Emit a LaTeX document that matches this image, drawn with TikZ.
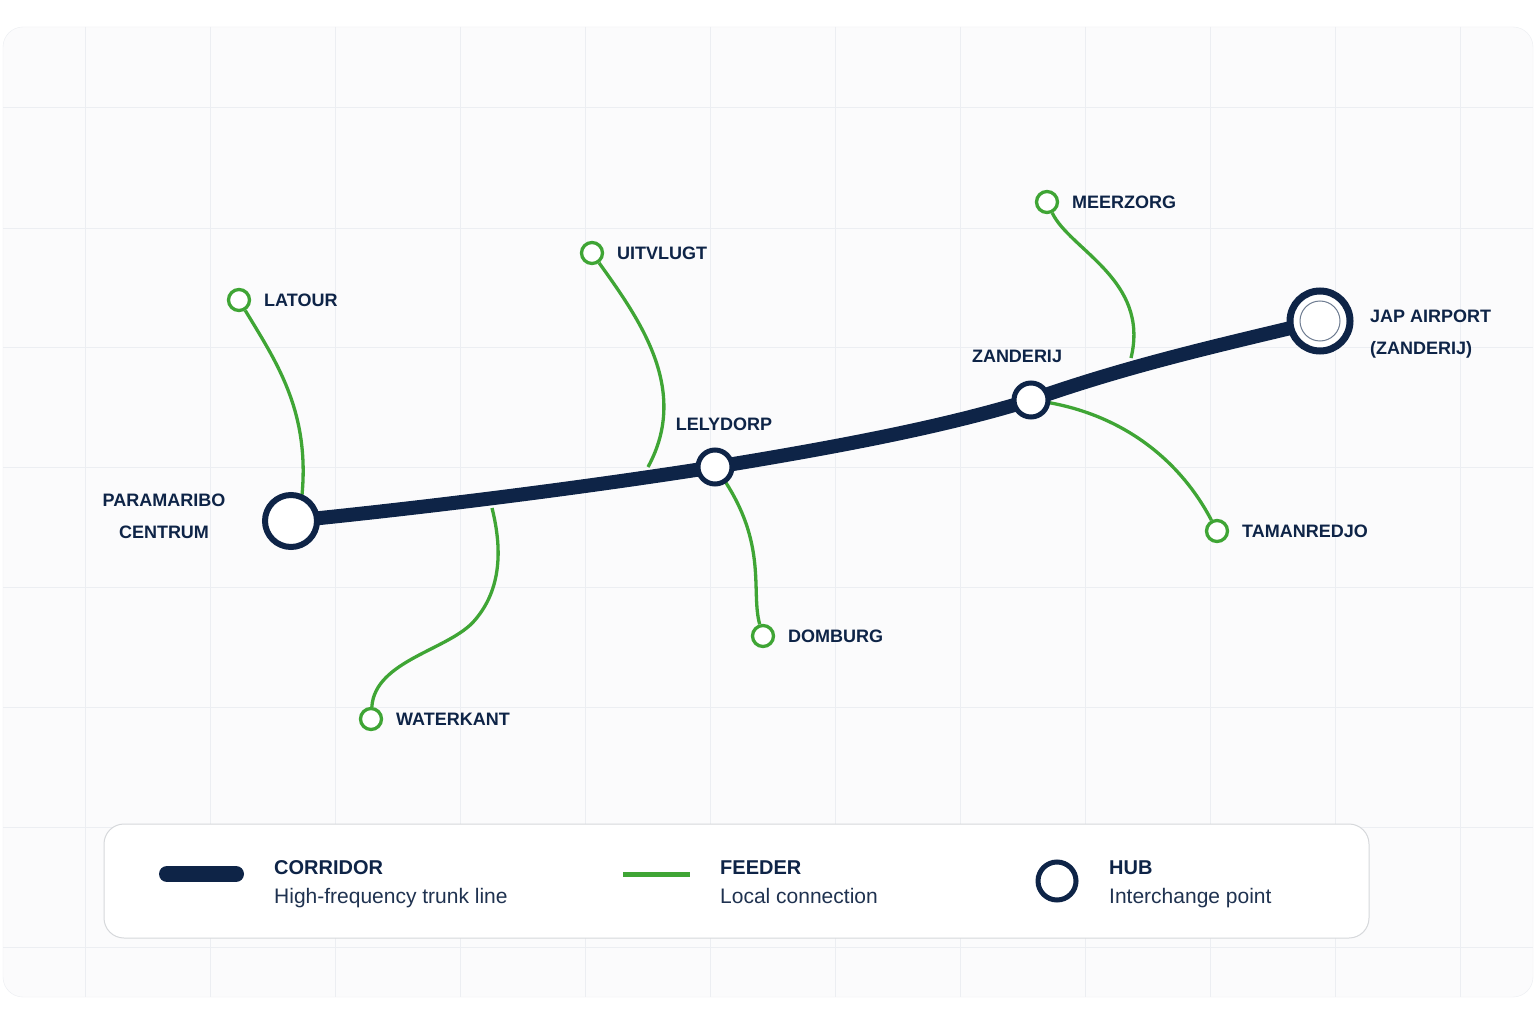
\documentclass[tikz,border=0pt]{standalone}
\usepackage{fontspec}
\setmainfont{Liberation Sans}
\definecolor{navy}{HTML}{0E2447}
\definecolor{feed}{HTML}{3FA535}
\definecolor{gridc}{HTML}{ECEEF2}
\definecolor{panel}{HTML}{FBFBFC}
\begin{document}
\begin{tikzpicture}[x=1pt,y=-1pt,
 lbl/.style={font=\bfseries\fontsize{18}{32}\selectfont,text=navy,inner sep=0pt},
 fd/.style={draw=feed,line width=3.3pt},
 fstop/.style={circle,draw=feed,fill=white,line width=3.3pt,minimum size=21pt,inner sep=0pt},
 hubs/.style={circle,draw=navy,fill=white,line width=6pt,inner sep=0pt},
 trunk/.style={draw=navy,line width=14pt,line cap=round}]
\useasboundingbox (0,0) rectangle (1536,1024);
\fill[white] (0,0) rectangle (1536,1024);
\draw[gridc,fill=panel,rounded corners=20pt] (3,27) rectangle (1533,997);
\begin{scope}
\clip[rounded corners=20pt] (3,27) rectangle (1533,997);
\foreach \x in {85,210,335,460,585,710,835,960,1085,1210,1335,1460} \draw[gridc] (\x,27) -- (\x,997);
\foreach \y in {107,228,347,467,587,707,827,947} \draw[gridc] (3,\y) -- (1533,\y);
\end{scope}
% trunk
\coordinate (p) at (291,521);
\coordinate (l) at (715,467);
\coordinate (z) at (1031,400);
\coordinate (a) at (1320,321);
\draw[trunk] (p) .. controls (450,505) and (600,485) .. (l) .. controls (850,445) and (950,425) .. (z) .. controls (1130,365) and (1220,345) .. (a);
% feeders
\node[fstop] (lat) at (239,300) {};
\node[fstop] (uit) at (592,253) {};
\node[fstop] (wat) at (371,719) {};
\node[fstop] (dom) at (763,636) {};
\node[fstop] (mee) at (1047,202) {};
\node[fstop] (tam) at (1217,531) {};
\coordinate (j1) at (302,495);
\coordinate (j2) at (648,467);
\coordinate (j3) at (492,508);
\coordinate (j4) at (1131,358);
\draw[fd] (lat) .. controls (275,360) and (310,410) .. (j1);
\draw[fd] (uit) .. controls (640,320) and (690,390) .. (j2);
\draw[fd] (wat) .. controls (375,660) and (450,650) .. (475,620) .. controls (505,585) and (500,540) .. (j3);
\draw[fd] (dom) .. controls (750,590) and (770,540) .. (l);
\draw[fd] (mee) .. controls (1070,250) and (1150,280) .. (j4);
\draw[fd] (tam) .. controls (1180,460) and (1120,410) .. (z);
% hubs
\node[hubs,minimum size=52pt] (ph) at (p) {};
\node[hubs,line width=5pt,minimum size=34pt] (lh) at (l) {};
\node[hubs,line width=5pt,minimum size=34pt] (zh) at (z) {};
\node[hubs,line width=7pt,minimum size=60pt] (ah) at (a) {};
\draw[navy!60,line width=1pt] (a) circle (20);
% labels
\node[lbl,align=center] at (164,516) {PARAMARIBO\\CENTRUM};
\node[lbl] at (724,424) {LELYDORP};
\node[lbl] at (1017,356) {ZANDERIJ};
\node[lbl,align=left,anchor=west] at (1370,334) {JAP AIRPORT\\(ZANDERIJ)};
\node[lbl,anchor=west] at (264,300) {LATOUR};
\node[lbl,anchor=west] at (617,253) {UITVLUGT};
\node[lbl,anchor=west] at (396,719) {WATERKANT};
\node[lbl,anchor=west] at (788,636) {DOMBURG};
\node[lbl,anchor=west] at (1072,202) {MEERZORG};
\node[lbl,anchor=west] at (1242,531) {TAMANREDJO};
% legend
\draw[gridc!80!gray,fill=white,rounded corners=20pt,line width=1pt] (104,824) rectangle (1369,938);
\draw[trunk,line width=16pt] (167,874) -- (236,874);
\draw[fd,line width=5pt] (623,874) -- (690,874);
\node[hubs,line width=5pt,minimum size=38pt] at (1057,881) {};
\foreach \x/\t/\s in {274/CORRIDOR/High-frequency trunk line,720/FEEDER/Local connection,1109/HUB/Interchange point}{
 \node[lbl,anchor=base west,font=\bfseries\fontsize{20}{24}\selectfont] at (\x,874) {\t};
 \node[anchor=base west,inner sep=0pt,text=navy!85!gray,font=\fontsize{21}{25}\selectfont] at (\x,903) {\s};
}
\end{tikzpicture}
\end{document}
